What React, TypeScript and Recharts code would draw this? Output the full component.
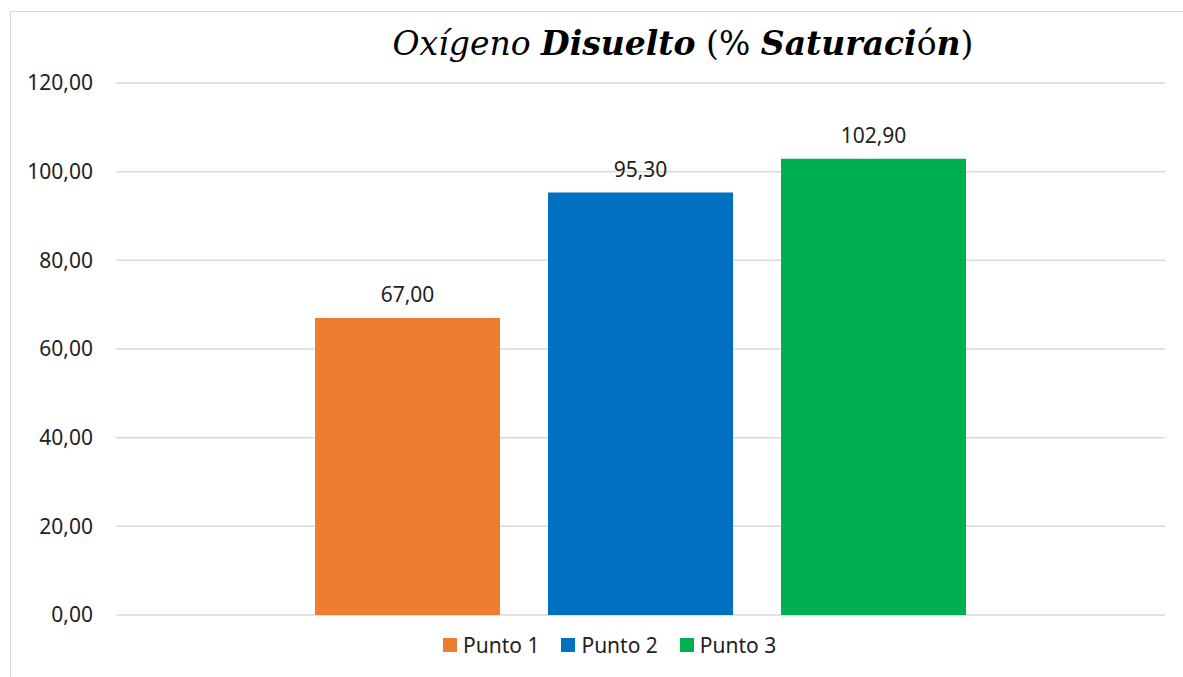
import { BarChart, Bar, XAxis, YAxis, CartesianGrid, Legend, LabelList } from 'recharts';

const categories = ['Oxígeno Disuelto'];
const series = ['Punto 1', 'Punto 2', 'Punto 3'];
const values = [67.0, 95.3, 102.9];
const yTicks = [0, 20, 40, 60, 80, 100, 120];

const COLORS = ['#ED7D31', '#0070C0', '#00B050'];
const FONT = '"Noto Sans", "Open Sans", sans-serif';

const data = categories.map((name) => {
  const row: Record<string, string | number> = { name };
  series.forEach((s, i) => {
    row[s] = values[i];
  });
  return row;
});

const fmt = (v: number) => v.toFixed(2).replace('.', ',');

function LegendContent() {
  return (
    <div style={{ display: 'flex', alignItems: 'center', fontFamily: FONT, fontSize: 21, color: '#222' }}>
      {series.map((s, i) => (
        <div key={s} style={{ display: 'flex', alignItems: 'center', marginRight: 22 }}>
          <span style={{ width: 14, height: 14, background: COLORS[i], marginRight: 6, display: 'inline-block' }} />
          <span>{s}</span>
        </div>
      ))}
    </div>
  );
}

export default function App() {
  return (
    <div style={{ position: 'absolute', left: 0, top: 0, width: 1183, height: 677, background: '#fff', overflow: 'hidden' }}>
      <div
        style={{
          position: 'absolute',
          left: 10,
          top: 11,
          width: 1200,
          height: 700,
          borderLeft: '1.5px solid #d9d9d9',
          borderTop: '1.5px solid #d9d9d9',
        }}
      />
      <div
        style={{
          position: 'absolute',
          top: 24,
          left: 0,
          width: 1366,
          textAlign: 'center',
          fontFamily: '"DejaVu Serif", "Liberation Serif", serif',
          fontSize: 33,
          color: '#000',
          whiteSpace: 'nowrap',
        }}
      >
        <span style={{ fontStyle: 'italic' }}>Oxígeno</span>{' '}
        <span style={{ fontStyle: 'italic', fontWeight: 'bold' }}>Disuelto</span> (%{' '}
        <span style={{ fontStyle: 'italic', fontWeight: 'bold' }}>Saturaci</span>ó
        <span style={{ fontStyle: 'italic', fontWeight: 'bold' }}>n</span>)
      </div>
      <BarChart
        width={1183}
        height={677}
        data={data}
        margin={{ top: 83, right: 18, bottom: 34, left: 0 }}
        barSize={185}
        barGap={48}
        style={{ position: 'absolute', left: 0, top: 0 }}
      >
        <CartesianGrid vertical={false} stroke="#d9d9d9" strokeWidth={1.5} />
        <XAxis dataKey="name" hide />
        <YAxis
          width={116}
          domain={[0, 120]}
          ticks={yTicks}
          axisLine={false}
          tickLine={false}
          tickMargin={17}
          tickFormatter={fmt}
          tick={{ fontSize: 21, fill: '#222', fontFamily: FONT }}
        />
        <Legend
          verticalAlign="bottom"
          content={<LegendContent />}
          wrapperStyle={{ left: 443, bottom: 18, width: 400 }}
        />
        {series.map((s, i) => (
          <Bar key={s} dataKey={s} fill={COLORS[i]} isAnimationActive={false}>
            <LabelList
              dataKey={s}
              position="top"
              offset={16}
              formatter={(v: number) => fmt(Number(v))}
              style={{ fontSize: 21, fill: '#222', fontFamily: FONT }}
            />
          </Bar>
        ))}
      </BarChart>
    </div>
  );
}
